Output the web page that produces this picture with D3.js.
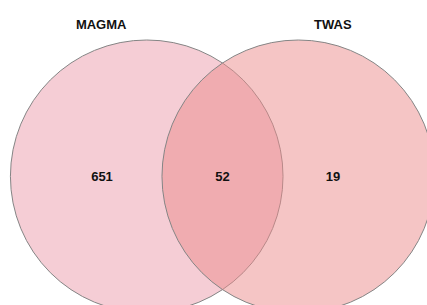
<!DOCTYPE html>
<html>
<head>
<meta charset="utf-8">
<script src="https://cdn.jsdelivr.net/npm/d3@7"></script>
<style>
  body { margin: 0; background: #fff; }
  text { font-family: 'Liberation Sans', Arial, sans-serif; font-weight: bold; font-size: 13px; fill: #111; }
</style>
</head>
<body>
<div class="chart"></div>
<script>
let width = 427;
let height = 305;

// data
let setNames = ['MAGMA', 'TWAS'];
let setColors = ['#eb9bab', '#eb8b8b'];
let regionKeys = ['MAGMA only', 'both', 'TWAS only'];
let regionCounts = [651, 52, 19];

// layout in venn units (radius = 1)
let centerX = [-0.556, 0.556];
let regionX = [-0.884, 0, 0.81];
let nameX = [-0.89, 0.81];

let svgChart = d3.select('.chart')
                 .append('svg')
                 .attr('width', width)
                 .attr('height', height);

let radius = 136.3;
let xScale = d3.scaleLinear()
               .domain([-1, 1])
               .range([222.5 - radius, 222.5 + radius]);
let yScale = d3.scaleLinear()
               .domain([-1, 1])
               .range([176.3 - radius, 176.3 + radius]);

svgChart.selectAll('circle')
        .data(setNames)
        .enter()
        .append('circle')
        .attr('cx', (d, i) => xScale(centerX[i]))
        .attr('cy', yScale(0))
        .attr('r', radius)
        .attr('fill', (d, i) => setColors[i])
        .attr('fill-opacity', 0.5)
        .attr('stroke', '#858585')
        .attr('stroke-width', 1);

svgChart.selectAll('.set-label')
        .data(setNames)
        .enter()
        .append('text')
        .attr('class', 'set-label')
        .attr('x', (d, i) => xScale(nameX[i]))
        .attr('y', yScale(-1.117))
        .attr('dy', '0.35em')
        .attr('text-anchor', 'middle')
        .text(d => d);

svgChart.selectAll('.region-label')
        .data(regionCounts)
        .enter()
        .append('text')
        .attr('class', 'region-label')
        .attr('x', (d, i) => xScale(regionX[i]))
        .attr('y', yScale(0))
        .attr('dy', '0.35em')
        .attr('text-anchor', 'middle')
        .text(d => d);
</script>
</body>
</html>
